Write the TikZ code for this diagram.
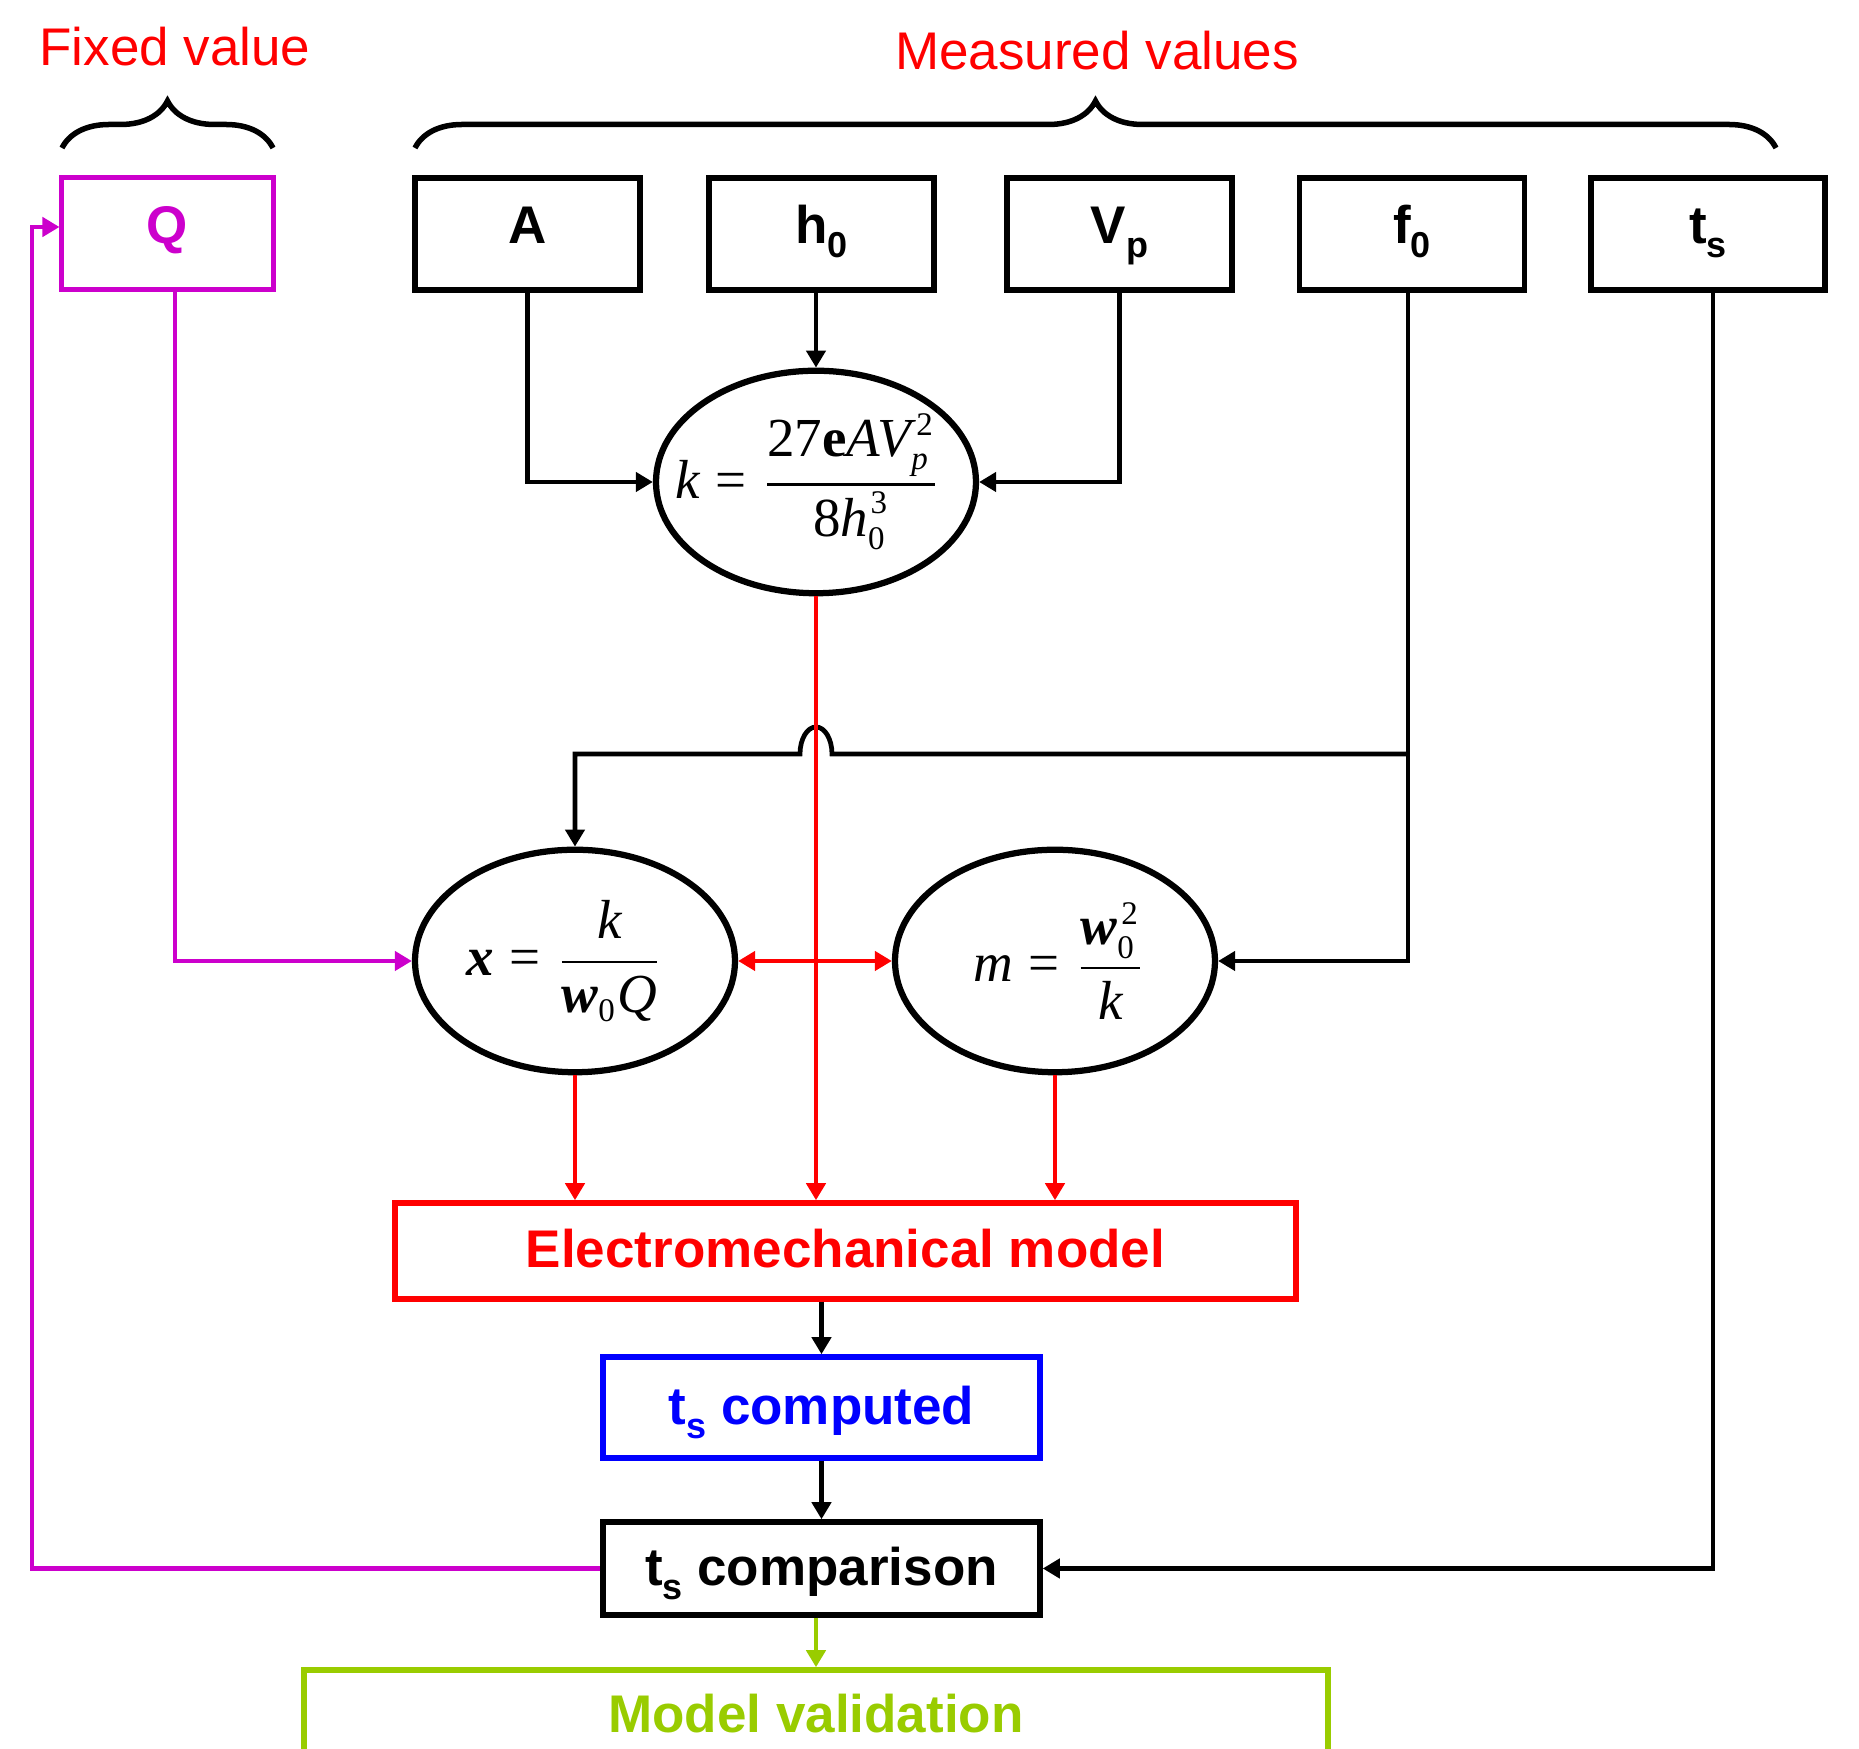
\documentclass[tikz,border=0pt]{standalone}
\usepackage{amsmath}
\usepackage{graphicx}
\usepackage{fontspec}
\setmainfont{Liberation Sans}
\newfontfamily\tms{Liberation Serif}
\usetikzlibrary{arrows.meta,shapes.geometric,decorations.pathreplacing,calc}
\definecolor{mag}{HTML}{CC00CC}
\definecolor{grn}{HTML}{99CC00}
\definecolor{rd}{HTML}{FF0000}
\definecolor{bl}{HTML}{0000FF}
\newcommand\subs[1]{\raisebox{-2.8pt}{\fontsize{7.2}{8}\selectfont #1}}
\newcommand\MI[1]{\mbox{\tms\itshape #1}}
\newcommand\MR[1]{\mbox{\tms #1}}
\newcommand\MB[1]{\mbox{\tms\bfseries #1}}
\newcommand\MBI[1]{\mbox{\tms\bfseries\itshape #1}}
\newcommand\SR[1]{\mbox{\tms\fontsize{6.6}{7}\selectfont #1}}
\newcommand\SI[1]{\mbox{\tms\itshape\fontsize{6.6}{7}\selectfont #1}}
\begin{document}
\begin{tikzpicture}[x=0.2pt,y=0.2pt,
  box/.style={draw, line width=1.1pt, rectangle, inner sep=0pt, text height=7.6pt, text depth=3.6pt, font=\fontsize{10.6}{12}\selectfont\bfseries},
  lowbox/.style={box, text depth=0.8pt},
  ell/.style={draw, line width=1.25pt, ellipse, inner sep=-10pt, minimum width=64pt, minimum height=44.5pt, font=\fontsize{11}{12}\selectfont},
  conn/.style={line width=0.95pt},
  arr/.style={conn, -{Triangle[length=3.4pt,width=3.8pt]}},
  lab/.style={font=\fontsize{10.6}{12}\selectfont, text=rd, inner sep=0pt},
]
\useasboundingbox (0,0) rectangle (1859,1749);
\clip (0,0) rectangle (1859,1749);

% titles and braces
\node[lab] (fixed) at (175,1702) {Fixed value};
\node[lab] (meas) at (1097,1698) {Measured values};
\coordinate (b1l) at (62,1601);
\coordinate (b1r) at (273,1601);
\coordinate (b2l) at (415,1601);
\coordinate (b2r) at (1776,1601);
\draw[line width=1.1pt, decorate, decoration={brace, amplitude=9.4pt}] (b1l) -- (b1r);
\draw[line width=1.1pt, decorate, decoration={brace, amplitude=9.4pt}] (b2l) -- (b2r);

% input boxes
\node[box, draw=mag, text=mag, line width=1pt, minimum width=42.2pt, minimum height=22.4pt] (Q) at (167.5,1515) {Q};
\node[box, minimum width=45pt, minimum height=22.4pt] (A) at (527.5,1515) {A};
\node[box, minimum width=45pt, minimum height=22.4pt] (h0) at (821.5,1515) {h\subs{0}};
\node[box, minimum width=45pt, minimum height=22.4pt] (Vp) at (1119.5,1515) {V\subs{p}};
\node[box, minimum width=45pt, minimum height=22.4pt] (f0) at (1412,1515) {f\subs{0}};
\node[box, minimum width=46.8pt, minimum height=22.4pt] (ts) at (1708,1515) {t\subs{s}};

% ellipses
\node[ell] (k) at (816,1267) {$\MI{k}\mathrel{\MR{=}}\dfrac{\MR{27}\MB{e}\MI{AV}^{\kern1pt\SR{2}}_{\SI{p}}}{\MR{8}\MI{h}^{\kern0.5pt\SR{3}}_{\SR{0}}}$\hspace*{3pt}};
\node[ell] (xi) at (575,788) {$\MBI{x}\mathrel{\MR{=}}\dfrac{\MI{k}}{\MBI{w}_{\SR{0}}\MI{Q}}$\hspace*{4pt}};
\node[ell] (m) at (1055,788) {\hspace*{2pt}$\MI{m}\mathrel{\MR{=}}\dfrac{\MBI{w}^{\kern0.8pt\SR{2}}_{\SR{0}}}{\MI{k}}$};

% lower boxes
\node[lowbox, draw=rd, text=rd, minimum width=180.2pt, minimum height=19.2pt] (em) at (845.5,498) {Electromechanical model};
\node[lowbox, draw=bl, text=bl, minimum width=87.4pt, minimum height=20.2pt] (tsc) at (821.5,341.5) {t\subs{s} computed};
\node[lowbox, minimum width=87.4pt, minimum height=18.6pt] (cmp) at (821.5,180.5) {t\subs{s} comparison};
\node[lowbox, draw=grn, text=grn, minimum width=204.8pt, minimum height=18.4pt] (mv) at (816,33) {Model validation};

% black connectors
\draw[arr] (A.south) |- (k.west);
\draw[arr] (k.north |- h0.south) -- (k.north);
\draw[arr] (Vp.south) |- (k.east);
\coordinate (fx) at ([xshift=-0.8pt]f0.south);
\draw[arr] (fx) |- (m.east);
\coordinate (jy) at (0,995);
\coordinate (fj) at (fx |- jy);
\coordinate (hopR) at ($(k.south |- jy)+(16,0)$);
\draw[arr] (fj) -- (hopR) arc[start angle=0, end angle=180, x radius=3.2pt, y radius=5.4pt] -- (xi.north |- jy) -- (xi.north);
\coordinate (tx) at ([xshift=1pt]ts.south);
\draw[arr] (tx) |- (cmp.east);
\draw[arr] (tsc.north |- em.south) -- (tsc.north);
\draw[arr] (tsc.south) -- (cmp.north);

% red connectors
\draw[arr, rd] (k.south) -- (k.south |- em.north);
\draw[arr, rd] (xi.south) -- (xi.south |- em.north);
\draw[arr, rd] (m.south) -- (m.south |- em.north);
\draw[conn, rd, {Triangle[length=3.4pt,width=3.8pt]}-{Triangle[length=3.4pt,width=3.8pt]}] (xi.east) -- (m.west);

% magenta connectors
\coordinate (lft) at (32,0);
\coordinate (qin) at ([yshift=1.4pt]Q.west);
\draw[arr, mag] ([xshift=1.5pt]Q.south) |- (xi.west);
\draw[arr, mag] (cmp.west) -- (cmp.west -| lft) -- (lft |- qin) -- (qin);

% green connector
\draw[arr, grn] (mv.north |- cmp.south) -- (mv.north);
\end{tikzpicture}
\end{document}
